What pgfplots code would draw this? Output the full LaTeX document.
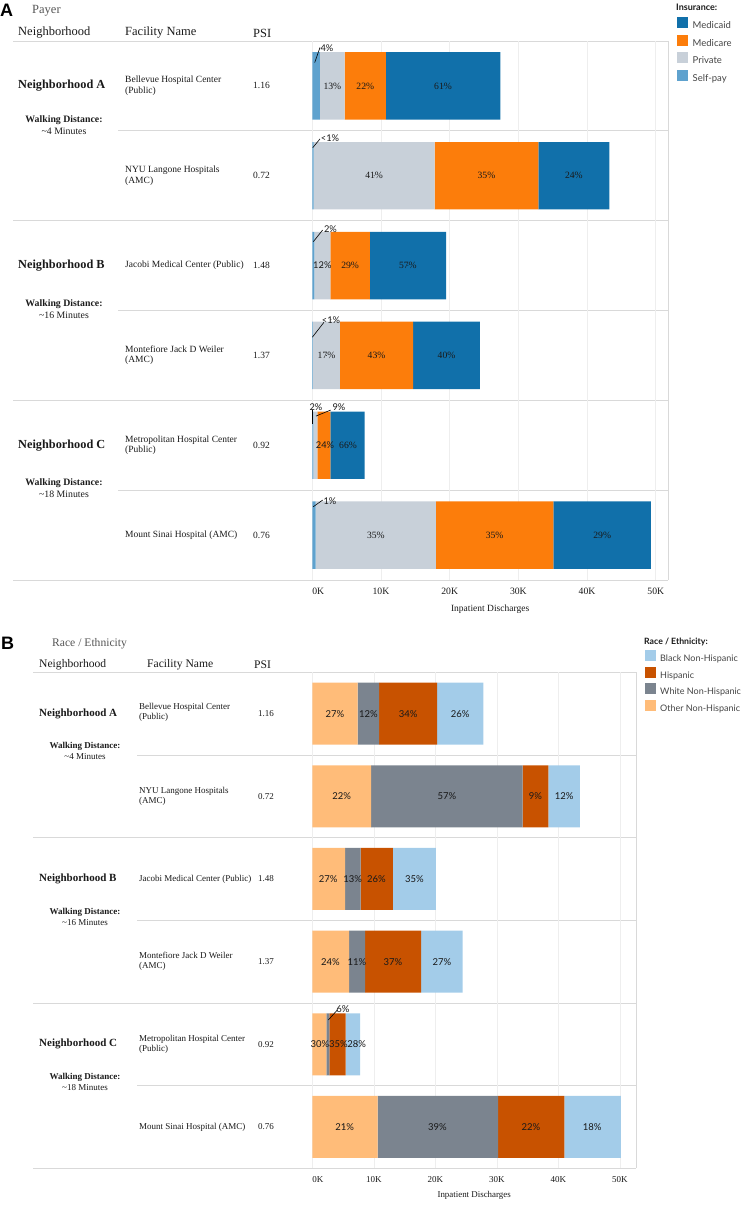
\documentclass[border=0pt]{standalone}
\usepackage{pgfplots}
\pgfplotsset{compat=1.18}
\usepackage{pgfplotstable}
\usepackage{fontspec}
\setmainfont{Liberation Serif}
\newfontfamily\tsans{Lato}
\newfontfamily\asans{Liberation Sans}
\newcommand{\fsz}[2]{\fontsize{#1pt}{#2pt}\selectfont}
\definecolor{medicaid}{HTML}{1170AA}
\definecolor{medicare}{HTML}{FC7D0B}
\definecolor{private}{HTML}{C8D0D9}
\definecolor{selfpay}{HTML}{5FA2CE}
\definecolor{blacknh}{HTML}{A3CCE9}
\definecolor{hispanic}{HTML}{C85200}
\definecolor{whitenh}{HTML}{7B848F}
\definecolor{othernh}{HTML}{FFBC79}
\definecolor{sep}{HTML}{D9D9D9}
\definecolor{gridc}{HTML}{EEEEEE}
\definecolor{txt}{HTML}{1A1A1A}
\definecolor{subt}{HTML}{555555}
\definecolor{legtxt}{HTML}{444444}

% Panel A: payer mix (thousands of discharges), row 5 = top
\pgfplotstableread{
row sp pr mc md
5 1.12 3.60 5.98 16.66
4 0.20 17.60 15.10 10.35
3 0.30 2.32 5.75 11.10
2 0.10 3.93 10.63 9.75
1 0.15 0.60 1.87 5.01
0 0.50 17.50 17.10 14.20
}\payer
\pgfplotstableread{
x y lab
2.92 5 13
7.71 5 22
19.03 5 61
9.00 4 41
25.35 4 35
38.08 4 24
5.50 3 29
13.92 3 57
2.07 2 17
9.35 2 43
19.54 2 40
5.20 1 66
9.25 0 35
26.55 0 35
42.20 0 29
}\payerin
\pgfplotstableread{
x y lab
2.14 5.422 4
2.58 4.42 <1
2.65 3.407 2
1.46 3 12
2.72 2.397 <1
0.54 1.429 2
3.89 1.426 9
1.85 1 24
2.58 0.38 1
}\payerout

% Panel B: race / ethnicity (thousands of discharges)
\pgfplotstableread{
row ot wh hi bl
5 7.38 3.47 9.45 7.50
4 9.55 24.65 4.17 5.15
3 5.32 2.55 5.23 7.00
2 5.97 2.60 9.13 6.75
1 2.28 0.48 2.67 2.33
0 10.63 19.57 10.80 9.15
}\race
\pgfplotstableread{
x y lab
3.69 5 27
9.12 5 12
15.58 5 34
24.05 5 26
4.78 4 22
21.88 4 57
36.29 4 9
40.95 4 12
2.60 3 27
6.55 3 13
10.42 3 26
16.60 3 35
2.95 2 24
7.25 2 11
13.10 2 37
21.06 2 27
1.25 1 30
4.23 1 35
7.20 1 28
5.25 0 21
20.35 0 39
35.55 0 22
45.50 0 18
4.99 1.427 6
}\racelab

\pgfplotsset{
  panelA/.style={at={(312.3pt,-41pt)}, anchor=north west, scale only axis,
    width=355.7pt, height=539pt, xmin=0, xmax=51.78, ymin=-0.5, ymax=5.5},
  panelB/.style={at={(312.3pt,-672.3pt)}, anchor=north west, scale only axis,
    width=323.7pt, height=496pt, xmin=0, xmax=52.63, ymin=-0.5, ymax=5.5},
  labs/.style={only marks, mark=*, mark size=0.1pt, mark options={draw=none, fill=none},
    point meta=explicit symbolic, nodes near coords={\pgfplotspointmeta\%},
    nodes near coords align=center,
    every node near coord/.append style={anchor=center, inner sep=0pt, text=txt, #1}},
  leader/.style={black, line width=0.6pt, mark=none},
}

\begin{document}
\begin{tikzpicture}[x=1pt,y=1pt]
\useasboundingbox (0,0) rectangle (755,-1206);

% ---------- Panel A decorations ----------
\begin{scope}[draw=sep, line width=0.8pt]
\draw (13,-41) -- (668,-41);
\draw (118,-130.8) -- (668,-130.8);
\draw (13,-220.7) -- (668,-220.7);
\draw (118,-310.5) -- (668,-310.5);
\draw (13,-400.3) -- (668,-400.3);
\draw (118,-490.2) -- (668,-490.2);
\draw (13,-580) -- (668,-580);
\draw (312.3,-41) -- (312.3,-580);
\draw (668,-41) -- (668,-580);
\end{scope}

\node[anchor=west, inner sep=0pt, font=\asans\bfseries\fsz{18}{20}] at (0,-10.5) {A};
\node[anchor=west, inner sep=0pt, font=\fsz{12.5}{14}, text=subt] at (32,-11) {Payer};
\begin{scope}[every node/.style={anchor=west, inner sep=0pt, font=\fsz{12.5}{14}, text=txt}]
\node at (18,-33) {Neighborhood};
\node at (125,-33) {Facility Name};
\node at (253,-33) {PSI};
\end{scope}
\begin{scope}[every node/.style={anchor=west, inner sep=0pt, font=\bfseries\fsz{12.3}{14}, text=txt}]
\node at (18,-85.9) {Neighborhood A};
\node at (18,-265.6) {Neighborhood B};
\node at (18,-445.2) {Neighborhood C};
\end{scope}
\begin{scope}[every node/.style={anchor=center, inner sep=0pt, font=\fsz{9.8}{11}, text=txt}]
\node[font=\bfseries\fsz{9.8}{11}] at (64,-120) {Walking Distance:};
\node at (64,-131.5) {\textasciitilde 4 Minutes};
\node[font=\bfseries\fsz{9.8}{11}] at (64,-304) {Walking Distance:};
\node at (64,-315.5) {\textasciitilde 16 Minutes};
\node[font=\bfseries\fsz{9.8}{11}] at (64,-483) {Walking Distance:};
\node at (64,-494.5) {\textasciitilde 18 Minutes};
\end{scope}
\begin{scope}[every node/.style={anchor=west, align=left, inner sep=0pt, font=\fsz{9.5}{10.5}, text=txt}]
\node at (125,-85.9) {Bellevue Hospital Center\\(Public)};
\node at (125,-175.7) {NYU Langone Hospitals\\(AMC)};
\node at (125,-265.6) {Jacobi Medical Center (Public)};
\node at (125,-355.4) {Montefiore Jack D Weiler\\(AMC)};
\node at (125,-445.2) {Metropolitan Hospital Center\\(Public)};
\node at (125,-535.1) {Mount Sinai Hospital (AMC)};
\node at (253,-85.9) {1.16};
\node at (253,-175.7) {0.72};
\node at (253,-265.6) {1.48};
\node at (253,-355.4) {1.37};
\node at (253,-445.2) {0.92};
\node at (253,-535.1) {0.76};
\end{scope}
\node[anchor=west, inner sep=0pt, font=\tsans\bfseries\fsz{9}{10}, text=txt] at (676,-7.3) {Insurance:};

\begin{axis}[panelA,
  xbar stacked, bar width=0.75,
  axis line style={draw=none},
  ytick=\empty, xtick={0,10,20,30,40,50},
  xticklabels={\makebox[0pt][l]{0K},10K,20K,30K,40K,50K},
  major tick length=0pt,
  xmajorgrids, grid style={draw=gridc, line width=0.6pt},
  xticklabel style={font=\fsz{9.7}{10}, text=txt, yshift=-5pt},
  xlabel={Inpatient Discharges},
  xlabel style={font=\fsz{9.5}{10}, text=txt, at={(axis description cs:0.5,0)}, anchor=center, yshift=-29.3pt},
  reverse legend,
  legend cell align=left,
  legend image code/.code={\fill[#1] (0pt,-2.2pt) rectangle (11pt,8.8pt);},
  legend style={at={(1,1)}, anchor=north west, xshift=9pt, yshift=24pt,
    draw=none, fill=none, inner sep=0pt, row sep=4.5pt,
    font=\tsans\fsz{9.5}{10}, text=legtxt,
    nodes={inner xsep=4.5pt, inner ysep=0pt}},
]
\addplot[fill=selfpay, draw=none] table[x=sp, y=row]{\payer}; \addlegendentry{Self-pay}
\addplot[fill=private, draw=none] table[x=pr, y=row]{\payer}; \addlegendentry{Private}
\addplot[fill=medicare, draw=none] table[x=mc, y=row]{\payer}; \addlegendentry{Medicare}
\addplot[fill=medicaid, draw=none] table[x=md, y=row]{\payer}; \addlegendentry{Medicaid}
\end{axis}

\begin{axis}[panelA, hide axis, clip=false]
\addplot[labs={font=\fsz{9.6}{10}}] table[x=x, y=y, meta=lab]{\payerin};
\addplot[labs={font=\tsans\fsz{9.3}{10}}] table[x=x, y=y, meta=lab]{\payerout};
\addplot[leader] coordinates {(0.35,5.26) (1.12,5.428)};
\addplot[leader] coordinates {(0.06,4.312) (1.12,4.41)};
\addplot[leader] coordinates {(0.15,3.266) (1.51,3.396)};
\addplot[leader] coordinates {(0,2.202) (1.7,2.369)};
\addplot[leader] coordinates {(0,1.392) (0,1.236)};
\addplot[leader] coordinates {(0.54,1.325) (2.68,1.392)};
\addplot[leader] coordinates {(0.15,0.316) (1.51,0.39)};
\end{axis}

% ---------- Panel B decorations ----------
\begin{scope}[draw=sep, line width=0.8pt]
\draw (33,-672.3) -- (636,-672.3);
\draw (137,-755) -- (636,-755);
\draw (33,-837.6) -- (636,-837.6);
\draw (137,-920.3) -- (636,-920.3);
\draw (33,-1003) -- (636,-1003);
\draw (137,-1085.6) -- (636,-1085.6);
\draw (33,-1168.3) -- (636,-1168.3);
\draw (312.3,-672.3) -- (312.3,-1168.3);
\draw (636,-672.3) -- (636,-1168.3);
\end{scope}

\node[anchor=west, inner sep=0pt, font=\asans\bfseries\fsz{18}{20}] at (1,-643) {B};
\node[anchor=west, inner sep=0pt, font=\fsz{11.6}{13}, text=subt] at (52,-644) {Race / Ethnicity};
\begin{scope}[every node/.style={anchor=west, inner sep=0pt, font=\fsz{11.6}{13}, text=txt}]
\node at (39,-665) {Neighborhood};
\node at (147,-665) {Facility Name};
\node at (254,-665) {PSI};
\end{scope}
\begin{scope}[every node/.style={anchor=west, inner sep=0pt, font=\bfseries\fsz{11}{13}, text=txt}]
\node at (39,-713.6) {Neighborhood A};
\node at (39,-879) {Neighborhood B};
\node at (39,-1044.3) {Neighborhood C};
\end{scope}
\begin{scope}[every node/.style={anchor=center, inner sep=0pt, font=\fsz{9}{10}, text=txt}]
\node[font=\bfseries\fsz{9}{10}] at (85,-746) {Walking Distance:};
\node at (85,-757) {\textasciitilde 4 Minutes};
\node[font=\bfseries\fsz{9}{10}] at (85,-912) {Walking Distance:};
\node at (85,-923) {\textasciitilde 16 Minutes};
\node[font=\bfseries\fsz{9}{10}] at (85,-1077) {Walking Distance:};
\node at (85,-1088) {\textasciitilde 18 Minutes};
\end{scope}
\begin{scope}[every node/.style={anchor=west, align=left, inner sep=0pt, font=\fsz{9}{10}, text=txt}]
\node at (139,-712.3) {Bellevue Hospital Center\\(Public)};
\node at (139,-796.3) {NYU Langone Hospitals\\(AMC)};
\node at (139,-879) {Jacobi Medical Center (Public)};
\node at (139,-961.6) {Montefiore Jack D Weiler\\(AMC)};
\node at (139,-1044.3) {Metropolitan Hospital Center\\(Public)};
\node at (139,-1127) {Mount Sinai Hospital (AMC)};
\node at (258,-713.6) {1.16};
\node at (258,-796.3) {0.72};
\node at (258,-879) {1.48};
\node at (258,-961.6) {1.37};
\node at (258,-1044.3) {0.92};
\node at (258,-1127) {0.76};
\end{scope}
\node[anchor=west, inner sep=0pt, font=\tsans\bfseries\fsz{8.7}{10}, text=txt] at (644,-642) {Race / Ethnicity:};

\begin{axis}[panelB,
  xbar stacked, bar width=0.75,
  axis line style={draw=none},
  ytick=\empty, xtick={0,10,20,30,40,50},
  xticklabels={\makebox[0pt][l]{0K},10K,20K,30K,40K,50K},
  major tick length=0pt,
  xmajorgrids, grid style={draw=gridc, line width=0.6pt},
  xticklabel style={font=\fsz{9}{10}, text=txt, yshift=-5pt},
  xlabel={Inpatient Discharges},
  xlabel style={font=\fsz{8.9}{10}, text=txt, at={(axis description cs:0.5,0)}, anchor=center, yshift=-26.7pt},
  reverse legend,
  legend cell align=left,
  legend image code/.code={\fill[#1] (0pt,-2.2pt) rectangle (11pt,8.8pt);},
  legend style={at={(1,1)}, anchor=north west, xshift=9pt, yshift=22.3pt,
    draw=none, fill=none, inner sep=0pt, row sep=3.7pt,
    font=\tsans\fsz{9}{10}, text=legtxt,
    nodes={inner xsep=4pt, inner ysep=0pt}},
]
\addplot[fill=othernh, draw=none] table[x=ot, y=row]{\race}; \addlegendentry{Other Non-Hispanic}
\addplot[fill=whitenh, draw=none] table[x=wh, y=row]{\race}; \addlegendentry{White Non-Hispanic}
\addplot[fill=hispanic, draw=none] table[x=hi, y=row]{\race}; \addlegendentry{Hispanic}
\addplot[fill=blacknh, draw=none] table[x=bl, y=row]{\race}; \addlegendentry{Black Non-Hispanic}
\end{axis}

\begin{axis}[panelB, hide axis, clip=false]
\addplot[labs={font=\tsans\fsz{9.5}{10}}] table[x=x, y=y, meta=lab]{\racelab};
\addplot[leader] coordinates {(2.6,1.294) (4.07,1.415)};
\end{axis}
\end{tikzpicture}
\end{document}
